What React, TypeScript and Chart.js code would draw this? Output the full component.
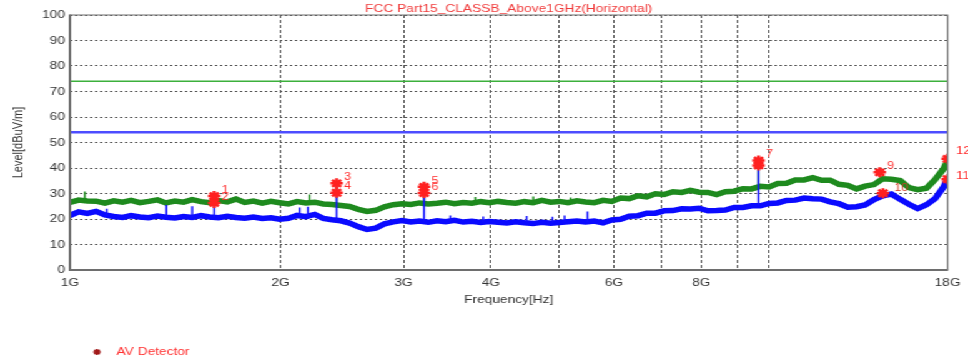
import React, { useEffect, useRef } from "react";
import { Chart, registerables } from "chart.js";

Chart.register(...registerables);

// ---------- data ----------
const TITLE = "FCC Part15_CLASSB_Above1GHz(Horizontal)";
const X_TITLE = "Frequency[Hz]";
const Y_TITLE = "Level[dBuV/m]";
const LEGEND_TEXT = "AV Detector";

const FREQ_GHZ = [
  1.0, 1.029, 1.059, 1.09, 1.122, 1.155, 1.189, 1.223, 1.259, 1.296,
  1.334, 1.372, 1.413, 1.454, 1.496, 1.54, 1.585, 1.631, 1.679, 1.728,
  1.778, 1.83, 1.884, 1.939, 1.995, 2.054, 2.113, 2.175, 2.239, 2.304,
  2.371, 2.441, 2.512, 2.585, 2.661, 2.738, 2.818, 2.901, 2.985, 3.073,
  3.162, 3.255, 3.35, 3.447, 3.548, 3.652, 3.758, 3.868, 3.981, 4.097,
  4.217, 4.34, 4.467, 4.597, 4.732, 4.87, 5.012, 5.158, 5.309, 5.464,
  5.623, 5.788, 5.957, 6.131, 6.31, 6.494, 6.683, 6.879, 7.079, 7.286,
  7.499, 7.718, 7.943, 8.175, 8.414, 8.66, 8.913, 9.173, 9.441, 9.716,
  10.0, 10.29, 10.59, 10.9, 11.22, 11.55, 11.89, 12.23, 12.59, 12.96,
  13.34, 13.72, 14.13, 14.54, 14.96, 15.4, 15.85, 16.31, 16.79, 17.28,
  17.78, 18.0,
];

const PEAK_DBUV = [
  26.5, 27.4, 27.1, 27.0, 26.2, 27.1, 26.6, 27.3, 26.4, 26.9,
  27.5, 26.3, 27.0, 26.6, 27.6, 26.8, 26.4, 27.2, 26.7, 27.8,
  26.5, 27.0, 26.2, 26.9, 26.4, 25.9, 26.8, 26.3, 26.6, 25.9,
  25.7, 25.3, 24.9, 23.8, 23.0, 23.4, 24.8, 25.6, 26.0, 25.7,
  26.3, 25.9, 26.2, 26.6, 26.0, 26.5, 26.2, 26.8, 26.4, 26.9,
  26.5, 26.2, 26.8, 26.4, 27.3, 26.6, 26.9, 26.4, 27.1, 26.7,
  26.4, 27.3, 26.9, 28.2, 28.0, 29.1, 28.7, 29.9, 29.6, 30.7,
  30.4, 31.2, 30.5, 30.4, 29.6, 30.7, 30.9, 31.9, 31.8, 32.8,
  32.6, 33.9, 34.0, 35.3, 35.3, 36.2, 35.2, 35.2, 33.6, 33.2,
  31.8, 32.9, 33.5, 35.8, 35.6, 35.1, 32.3, 31.5, 32.1, 35.5,
  39.8, 43.2,
];

const AV_DBUV = [
  21.4, 22.8, 22.2, 23.0, 21.6, 21.0, 20.6, 21.3, 20.8, 20.5,
  21.2, 20.7, 20.4, 21.0, 20.6, 21.3, 20.8, 20.5, 21.1, 20.6,
  20.3, 20.8, 20.2, 20.5, 19.9, 20.3, 21.4, 20.9, 21.8, 20.2,
  19.7, 19.3, 18.4, 17.0, 15.9, 16.4, 18.1, 18.9, 19.4, 18.8,
  19.2, 18.7, 19.3, 18.9, 19.5, 18.8, 19.1, 18.6, 19.0, 18.7,
  18.4, 18.9, 18.5, 18.2, 18.7, 18.3, 18.6, 18.9, 19.2, 18.8,
  19.2, 18.5, 19.6, 19.9, 21.1, 21.3, 22.3, 22.3, 23.2, 23.3,
  24.0, 23.9, 24.2, 23.2, 23.3, 23.5, 24.5, 24.5, 25.2, 25.2,
  26.1, 26.3, 27.3, 27.4, 28.2, 27.9, 27.8, 26.7, 26.0, 24.6,
  24.8, 25.5, 27.6, 29.1, 29.8, 27.7, 25.8, 24.1, 25.6, 28.0,
  32.7, 36.0,
];

// narrow spikes (frequency, level at trace, level at top)
const PEAK_SPIKE_GHZ = [1.05, 1.608, 2.2, 2.407, 3.21, 3.8, 4.6, 5.2, 9.66];
const PEAK_SPIKE_BASE = [27.0, 27.0, 26.5, 25.5, 26.1, 26.6, 26.5, 26.6, 32.4];
const PEAK_SPIKE_TOP = [30.8, 29.0, 29.6, 34.0, 32.6, 28.6, 28.8, 28.4, 42.9];

const AV_SPIKE_GHZ = [1.129, 1.374, 1.496, 1.608, 2.13, 2.19, 2.407, 3.21, 3.5, 3.9, 4.5, 4.9, 5.1, 5.5, 9.66];
const AV_SPIKE_BASE = [21.3, 20.7, 20.6, 20.7, 21.0, 20.9, 19.5, 19.0, 19.0, 18.9, 18.6, 18.5, 18.7, 18.8, 25.3];
const AV_SPIKE_TOP = [24.0, 25.5, 25.0, 26.3, 24.5, 24.8, 33.0, 30.0, 21.4, 21.0, 21.2, 20.9, 21.4, 22.9, 41.0];

const LIMIT_PEAK = 74;
const LIMIT_AV = 54;

const MARKER_LABEL = ["1", "2", "3", "4", "5", "6", "7", "", "9", "10", "11", "12"];
const MARKER_GHZ = [1.608, 1.608, 2.407, 2.407, 3.21, 3.21, 9.66, 9.66, 14.4, 14.55, 18, 18];
const MARKER_DBUV = [29.0, 26.3, 34.0, 30.3, 32.6, 30.2, 42.9, 41.0, 38.3, 30.1, 35.6, 43.6];

const X_GRID_GHZ = [1, 2, 3, 4, 5, 6, 7, 8, 9, 10, 18];
const X_LABEL_GHZ = [1, 2, 3, 4, 6, 8, 18];
const X_LABEL_TEXT = ["1G", "2G", "3G", "4G", "6G", "8G", "18G"];
const Y_MIN = 0;
const Y_MAX = 100;
const Y_STEP = 10;

// ---------- rendering ----------
const W = 775;
const H = 363;
const STRETCH = 968 / W;
const FONT = "'Liberation Sans', Arial, sans-serif";

const spikeData = (f: number[], b: number[], t: number[]) =>
  f.flatMap((x, i) => [
    { x, y: b[i] },
    { x, y: t[i] },
    { x, y: null as any },
  ]);

const overlay = {
  id: "overlay",
  afterDraw(chart: any) {
    const { ctx, chartArea: a } = chart;
    ctx.save();
    // frame
    ctx.strokeStyle = "#6e6e6e";
    ctx.lineWidth = 1.2;
    ctx.beginPath();
    ctx.moveTo(a.left, a.top);
    ctx.lineTo(a.right, a.top);
    ctx.lineTo(a.right, a.bottom);
    ctx.stroke();
    ctx.lineWidth = 2;
    ctx.beginPath();
    ctx.moveTo(a.left, a.top - 0.5);
    ctx.lineTo(a.left, a.bottom);
    ctx.lineTo(a.right + 0.5, a.bottom);
    ctx.stroke();

    // title
    ctx.font = `11px ${FONT}`;
    ctx.fillStyle = "#f03c3c";
    ctx.textAlign = "center";
    ctx.textBaseline = "middle";
    ctx.fillText(TITLE, (a.left + a.right) / 2, 8.5);

    // marker labels
    const xs = chart.scales.x;
    const ys = chart.scales.y;
    const off: Record<string, [number, number]> = {
      "10": [9, -5],
      "11": [7, -3],
      "12": [7, -8],
    };
    ctx.textAlign = "left";
    ctx.font = `10px ${FONT}`;
    MARKER_LABEL.forEach((lab, i) => {
      if (!lab) return;
      const px = xs.getPixelForValue(MARKER_GHZ[i]);
      const py = ys.getPixelForValue(MARKER_DBUV[i]);
      const [dx, dy] = off[lab] || [6, -6];
      ctx.fillStyle = lab === "10" ? "#d0402a" : "#ff3030";
      ctx.fillText(lab, px + dx, py + dy);
    });

    // legend
    const lx = 97 / STRETCH;
    const ly = 352;
    ctx.strokeStyle = "#a01818";
    ctx.lineWidth = 1.6;
    const r = 3;
    ctx.beginPath();
    for (let k = 0; k < 4; k++) {
      const ang = (k * Math.PI) / 4;
      ctx.moveTo(lx - r * Math.cos(ang), ly - r * Math.sin(ang));
      ctx.lineTo(lx + r * Math.cos(ang), ly + r * Math.sin(ang));
    }
    ctx.stroke();
    ctx.font = `11px ${FONT}`;
    ctx.fillStyle = "#ff3030";
    ctx.textAlign = "left";
    ctx.fillText(LEGEND_TEXT, 116.5 / STRETCH, ly);
    ctx.restore();
  },
};

export default function App() {
  const ref = useRef<HTMLCanvasElement>(null);

  useEffect(() => {
    if (!ref.current) return;
    const trace = (vals: number[]) => FREQ_GHZ.map((x, i) => ({ x, y: vals[i] }));
    const chart = new Chart(ref.current, {
      type: "line",
      data: {
        datasets: [
          {
            label: "AV Detector",
            data: MARKER_GHZ.map((x, i) => ({ x, y: MARKER_DBUV[i] })),
            showLine: false,
            pointStyle: "star",
            pointRadius: 5,
            pointBorderWidth: 2.5,
            pointBorderColor: "#ff2020",
            pointBackgroundColor: "#ff2020",
            borderColor: "#ff2020",
            order: 0,
          },
          {
            label: "AV spikes",
            data: spikeData(AV_SPIKE_GHZ, AV_SPIKE_BASE, AV_SPIKE_TOP),
            borderColor: "#1010ff",
            borderWidth: 1.5,
            pointRadius: 0,
            spanGaps: false,
            order: 1,
          },
          {
            label: "AV",
            data: trace(AV_DBUV),
            borderColor: "#0a0aff",
            borderWidth: 5.5,
            pointRadius: 0,
            order: 2,
          },
          {
            label: "Peak spikes",
            data: spikeData(PEAK_SPIKE_GHZ, PEAK_SPIKE_BASE, PEAK_SPIKE_TOP),
            borderColor: "#1e8c1e",
            borderWidth: 1.5,
            pointRadius: 0,
            spanGaps: false,
            order: 3,
          },
          {
            label: "Peak",
            data: trace(PEAK_DBUV),
            borderColor: "#1e8a1e",
            borderWidth: 5.5,
            pointRadius: 0,
            order: 4,
          },
          {
            label: "AV limit",
            data: [
              { x: X_GRID_GHZ[0], y: LIMIT_AV },
              { x: X_GRID_GHZ[X_GRID_GHZ.length - 1], y: LIMIT_AV },
            ],
            borderColor: "#4d4dff",
            borderWidth: 2.5,
            pointRadius: 0,
            order: 5,
          },
          {
            label: "Peak limit",
            data: [
              { x: X_GRID_GHZ[0], y: LIMIT_PEAK },
              { x: X_GRID_GHZ[X_GRID_GHZ.length - 1], y: LIMIT_PEAK },
            ],
            borderColor: "#3cb03c",
            borderWidth: 1.6,
            pointRadius: 0,
            order: 6,
          },
        ],
      },
      options: {
        responsive: false,
        animation: false,
        events: [],
        layout: { padding: { left: 0, right: 13, top: 15, bottom: 0 } },
        plugins: {
          legend: { display: false },
          tooltip: { enabled: false },
          title: { display: false },
        },
        scales: {
          x: {
            type: "logarithmic",
            min: X_GRID_GHZ[0],
            max: X_GRID_GHZ[X_GRID_GHZ.length - 1],
            afterBuildTicks: (s: any) => {
              s.ticks = X_GRID_GHZ.map((v) => ({ value: v }));
            },
            afterFit: (s: any) => {
              s.height = 93;
            },
            ticks: {
              autoSkip: false,
              maxRotation: 0,
              minRotation: 0,
              padding: 6,
              color: "#333",
              font: { family: FONT, size: 11 },
              callback: (v: any) => {
                const i = X_LABEL_GHZ.indexOf(Number(v));
                return i >= 0 ? X_LABEL_TEXT[i] : "";
              },
            },
            grid: { color: "#4a4a4a", lineWidth: 1, drawTicks: false },
            border: { display: false, dash: [3, 2] },
            title: {
              display: true,
              text: X_TITLE,
              color: "#333",
              font: { family: FONT, size: 11 },
              padding: { top: 0, bottom: 56 },
            },
          },
          y: {
            min: Y_MIN,
            max: Y_MAX,
            afterFit: (s: any) => {
              s.width = 56;
            },
            ticks: {
              stepSize: Y_STEP,
              padding: 4,
              color: "#333",
              font: { family: FONT, size: 11 },
            },
            grid: { color: "#5a5a5a", lineWidth: 1, drawTicks: false },
            border: { display: false, dash: [2, 2] },
            title: {
              display: true,
              text: Y_TITLE,
              color: "#333",
              font: { family: FONT, size: 11 },
              padding: { top: 8.6, bottom: 0 },
            },
          },
        },
      },
      plugins: [overlay],
    } as any);
    return () => chart.destroy();
  }, []);

  return (
    <div
      style={{
        position: "fixed",
        left: 0,
        top: 0,
        width: W,
        height: H,
        background: "#fff",
        transform: `scaleX(${STRETCH})`,
        transformOrigin: "0 0",
      }}
    >
      <canvas ref={ref} width={W} height={H} style={{ display: "block", width: W, height: H }} />
    </div>
  );
}
